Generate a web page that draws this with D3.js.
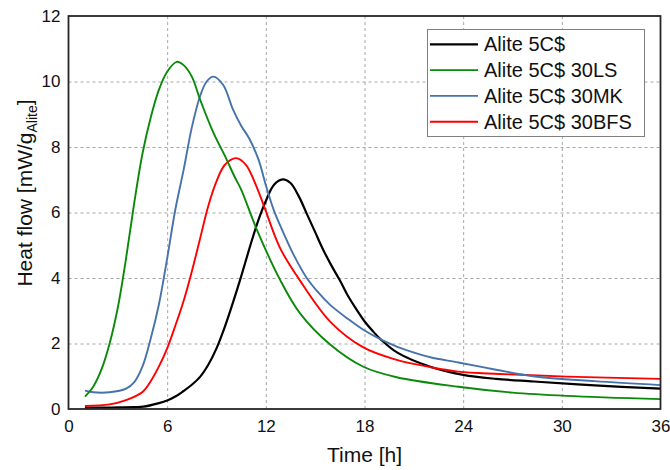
<!DOCTYPE html>
<html>
<head>
<meta charset="utf-8">
<script src="https://cdn.jsdelivr.net/npm/d3@7"></script>
<style>
  body { margin: 0; background: #fff; }
  svg { font-family: Arial, "Liberation Sans", sans-serif; }
</style>
</head>
<body>
<div id="chart"></div>
<script>
// series names (legend order)
var names = ["Alite 5C$", "Alite 5C$ 30LS", "Alite 5C$ 30MK", "Alite 5C$ 30BFS"];
var colors = ["#000000", "#0a8a0a", "#4673aa", "#ff0000"];

// time [h] and heat flow [mW/g]
var tRef = [1, 2, 3, 4, 4.55, 5.5, 6, 6.5, 7, 7.5, 8, 8.5, 9, 9.5, 10, 10.5, 11, 11.5, 12, 12.5, 13.03, 13.5, 14, 14.5, 15, 15.5, 16, 16.5, 17, 17.5, 18, 18.5, 19, 20, 22, 24, 26, 28.3, 32, 36];
var qRef = [0.04, 0.04, 0.05, 0.06, 0.07, 0.18, 0.26, 0.38, 0.55, 0.74, 0.98, 1.35, 1.85, 2.5, 3.25, 4.05, 4.9, 5.7, 6.35, 6.85, 7.01, 6.9, 6.5, 5.95, 5.4, 4.85, 4.37, 3.93, 3.45, 3.05, 2.68, 2.38, 2.12, 1.72, 1.29, 1.04, 0.92, 0.84, 0.72, 0.62];

var tLS = [1, 1.5, 2, 2.5, 3, 3.5, 4, 4.5, 5, 5.5, 6, 6.58, 7, 7.5, 8, 8.81, 9.52, 10.13, 10.5, 11.45, 12.86, 14.08, 15.91, 17.93, 19.96, 23.71, 27, 30.3, 36];
var qLS = [0.38, 0.68, 1.2, 2.0, 3.1, 4.6, 6.3, 7.8, 8.9, 9.75, 10.3, 10.6, 10.5, 10.15, 9.45, 8.44, 7.72, 7.06, 6.7, 5.48, 3.95, 2.92, 1.97, 1.29, 0.97, 0.68, 0.5, 0.4, 0.3];

var tMK = [1, 1.5, 2.5, 3.5, 4, 4.5, 5, 5.5, 6, 6.5, 7, 7.5, 8, 8.4, 8.81, 9.4, 10, 10.5, 11, 11.55, 12.05, 12.5, 13.07, 13.7, 14.49, 15.2, 15.91, 17, 17.93, 19.05, 20, 20.97, 22, 23.71, 26, 28.26, 32, 36];
var qMK = [0.56, 0.51, 0.51, 0.62, 0.82, 1.3, 2.15, 3.2, 4.6, 6.1, 7.3, 8.6, 9.55, 10.0, 10.15, 9.9, 9.15, 8.65, 8.25, 7.62, 6.75, 6.05, 5.38, 4.7, 4.0, 3.55, 3.18, 2.75, 2.42, 2.11, 1.9, 1.73, 1.58, 1.42, 1.2, 1.0, 0.85, 0.73];

var tBFS = [1, 2.5, 3.5, 4.5, 5, 5.5, 6, 6.5, 7, 7.5, 8, 8.5, 9, 9.5, 10.19, 10.8, 11.3, 11.85, 12.86, 14.08, 15.91, 17.93, 19.96, 21.99, 23.71, 26.2, 30.3, 36];
var qBFS = [0.09, 0.14, 0.27, 0.52, 0.85, 1.3, 1.85, 2.55, 3.3, 4.2, 5.2, 6.2, 6.95, 7.45, 7.66, 7.45, 6.95, 6.25, 4.92, 3.92, 2.67, 1.88, 1.5, 1.28, 1.14, 1.07, 0.99, 0.92];

var xTicks = [0, 6, 12, 18, 24, 30, 36];
var yTicks = [0, 2, 4, 6, 8, 10, 12];

var width = 670, height = 470;
var m = { left: 68.5, right: 9.5, top: 16, bottom: 61 };

var svg = d3.select("#chart").append("svg")
    .attr("width", width)
    .attr("height", height);

var x = d3.scaleLinear().domain([0, 36]).range([m.left, width - m.right]);
var y = d3.scaleLinear().domain([0, 12]).range([height - m.bottom, m.top]);

// dashed grid
svg.append("g")
    .attr("transform", "translate(0," + y(0) + ")")
    .call(d3.axisBottom(x).tickValues(xTicks.slice(1, -1)).tickSize(-(y(0) - y(12))).tickFormat(""))
    .call(g => g.select(".domain").remove())
    .selectAll("line").attr("stroke", "#a6a6a6").attr("stroke-dasharray", "3,3");
svg.append("g")
    .attr("transform", "translate(" + x(0) + ",0)")
    .call(d3.axisLeft(y).tickValues(yTicks.slice(1, -1)).tickSize(-(x(36) - x(0))).tickFormat(""))
    .call(g => g.select(".domain").remove())
    .selectAll("line").attr("stroke", "#a6a6a6").attr("stroke-dasharray", "3,3");

// curves
var series = [
    { t: tRef, q: qRef },
    { t: tLS, q: qLS },
    { t: tMK, q: qMK },
    { t: tBFS, q: qBFS }
];
var line = d3.line()
    .x(d => x(d[0]))
    .y(d => y(d[1]))
    .curve(d3.curveCatmullRom.alpha(0.5));

var plot = svg.append("g");
// black first, coloured ones on top
[0, 3, 2, 1].forEach(i => {
    var pts = series[i].t.map((t, j) => [t, series[i].q[j]]);
    plot.append("path")
        .attr("d", line(pts))
        .attr("fill", "none")
        .attr("stroke", colors[i])
        .attr("stroke-width", i == 0 ? 2.2 : 1.9);
});

// frame
svg.append("rect")
    .attr("x", x(0)).attr("y", y(12))
    .attr("width", x(36) - x(0)).attr("height", y(0) - y(12))
    .attr("fill", "none")
    .attr("stroke", "#262626")
    .attr("stroke-width", 1.8);

// tick labels
svg.append("g")
    .attr("transform", "translate(0," + y(0) + ")")
    .call(d3.axisBottom(x).tickValues(xTicks).tickSize(0).tickPadding(11))
    .call(g => g.select(".domain").remove())
    .selectAll("text").attr("font-size", 17).attr("font-family", "Arial, 'Liberation Sans', sans-serif").attr("fill", "#111");
svg.append("g")
    .attr("transform", "translate(" + x(0) + ",0)")
    .call(d3.axisLeft(y).tickValues(yTicks).tickSize(0).tickPadding(8))
    .call(g => g.select(".domain").remove())
    .selectAll("text").attr("font-size", 17).attr("font-family", "Arial, 'Liberation Sans', sans-serif").attr("fill", "#111");

// axis titles
svg.append("text")
    .attr("x", (x(0) + x(36)) / 2)
    .attr("y", 462)
    .attr("text-anchor", "middle")
    .attr("font-size", 21)
    .attr("fill", "#111")
    .text("Time [h]");

var yt = svg.append("text")
    .attr("transform", "translate(32,193) rotate(-90)")
    .attr("text-anchor", "middle")
    .attr("font-size", 21)
    .attr("fill", "#111");
yt.append("tspan").text("Heat flow [mW/g");
yt.append("tspan").attr("font-size", 14).attr("dy", 5).text("Alite");
yt.append("tspan").attr("dy", -5).text("]");

// legend
var lg = svg.append("g");
lg.append("rect")
    .attr("x", 427.5).attr("y", 29.5)
    .attr("width", 217).attr("height", 107)
    .attr("fill", "#fff")
    .attr("stroke", "#808080")
    .attr("stroke-width", 1);
names.forEach((n, i) => {
    var ly = 44.3 + i * 25.8;
    lg.append("line")
        .attr("x1", 430).attr("x2", 478)
        .attr("y1", ly).attr("y2", ly)
        .attr("stroke", colors[i])
        .attr("stroke-width", i == 0 ? 2.2 : 1.9);
    lg.append("text")
        .attr("x", 484).attr("y", ly + 6.8)
        .attr("font-size", 20)
        .attr("fill", "#111")
        .text(n);
});
</script>
</body>
</html>
